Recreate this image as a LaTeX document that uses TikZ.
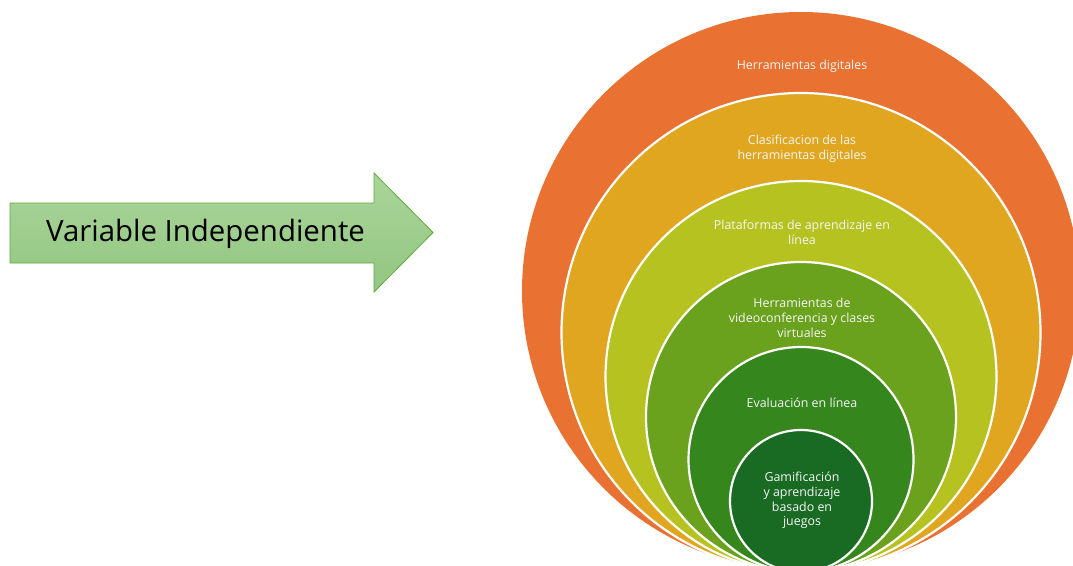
\documentclass[tikz,border=0pt]{standalone}
\usepackage{fontspec}
\setmainfont{Open Sans}
\usetikzlibrary{shapes.geometric}
\definecolor{c1}{RGB}{233,113,50}
\definecolor{c2}{RGB}{224,166,32}
\definecolor{c3}{RGB}{181,194,31}
\definecolor{c4}{RGB}{106,162,30}
\definecolor{c5}{RGB}{54,134,30}
\definecolor{c6}{RGB}{25,107,36}
\definecolor{arrowtop}{RGB}{170,213,155}
\definecolor{arrowbot}{RGB}{146,198,128}
\definecolor{arrowline}{RGB}{95,170,60}
\begin{document}
\begin{tikzpicture}[x=1pt,y=-1pt]
\tikzset{
  ring/.style={circle, draw=white, line width=2.2pt, inner sep=0pt},
  lab/.style={text=white!96!black, font=\fontsize{12.4}{15}\selectfont, align=center, inner sep=0pt},
  bigtext/.style={font=\fontsize{29.4}{30}\selectfont, text=black, inner sep=0pt}
}
\useasboundingbox (0,0) rectangle (1073,565);
\clip (0,0) rectangle (1073,565);
% arrow
\coordinate (a1) at (10,203);
\coordinate (a2) at (374,203);
\coordinate (a3) at (374,173);
\coordinate (a4) at (433,232.5);
\coordinate (a5) at (374,292);
\coordinate (a6) at (374,263);
\coordinate (a7) at (10,263);
\shade[top color=arrowtop, bottom color=arrowbot, draw=arrowline, line width=0.8pt, line join=miter]
  (a1) -- (a2) -- (a3) -- (a4) -- (a5) -- (a6) -- (a7) -- cycle;
\node[bigtext] (vi) at (205.5,234) {Variable Independiente};
% rings
\node[ring, fill=c1, draw=none, minimum size=558pt] (r1) at (801,291) {};
\node[ring, fill=c2, minimum size=479pt] (r2) at (801,332.5) {};
\node[ring, fill=c3, minimum size=391pt] (r3) at (801,376.5) {};
\node[ring, fill=c4, minimum size=310pt] (r4) at (801,417) {};
\node[ring, fill=c5, minimum size=225pt] (r5) at (801,459.5) {};
\node[ring, fill=c6, minimum size=142pt] (r6) at (801,501) {};
% labels
\node[lab] (l1) at (802,66.5) {Herramientas digitales};
\node[lab] (l2) at (802,149) {Clasificacion de las\\herramientas digitales};
\node[lab] (l3) at (802,232) {Plataformas de aprendizaje en\\línea};
\node[lab] (l4) at (802,317.5) {Herramientas de\\videoconferencia y clases\\virtuales};
\node[lab] (l5) at (802,402.5) {Evaluación en línea};
\node[lab, font=\fontsize{12.4}{14.7}\selectfont] (l6) at (802,500.5) {Gamificación\\y aprendizaje\\basado en\\juegos};
\end{tikzpicture}
\end{document}
